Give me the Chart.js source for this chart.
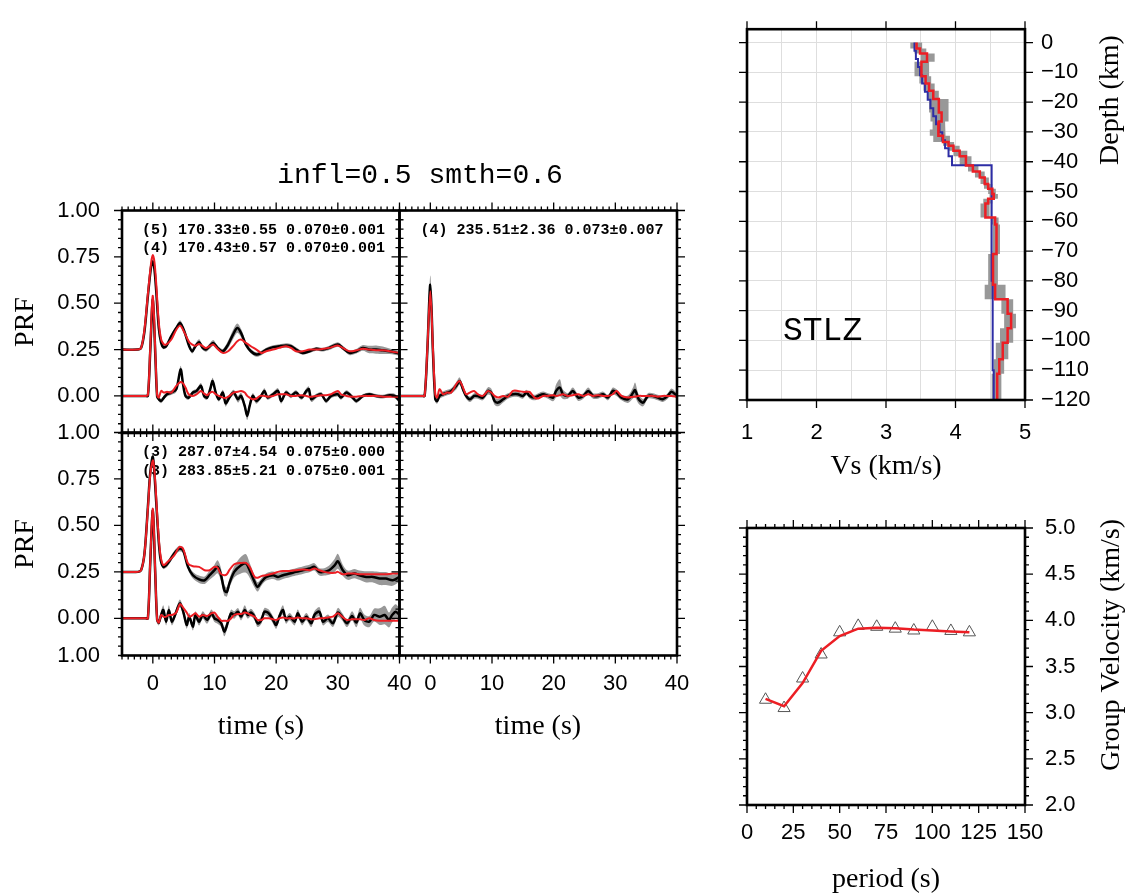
<!DOCTYPE html>
<html>
<head>
<meta charset="utf-8">
<title>STLZ receiver function inversion</title>
<script src="https://cdn.jsdelivr.net/npm/chart.js@4.4.0/dist/chart.umd.min.js"></script>
<style>
  html, body { margin: 0; padding: 0; background: #fff; }
  #wrap { position: relative; width: 1144px; height: 894px; overflow: hidden; }
  #wrap canvas { position: absolute; left: 0; top: 0; }
</style>
</head>
<body>
<div id="wrap">
  <canvas id="prfTL" width="1144" height="894"></canvas>
  <canvas id="prfTR" width="1144" height="894"></canvas>
  <canvas id="prfBL" width="1144" height="894"></canvas>
  <canvas id="prfBR" width="1144" height="894"></canvas>
  <canvas id="vsProfile" width="1144" height="894"></canvas>
  <canvas id="groupVel" width="1144" height="894"></canvas>
</div>
<script>
// ---- receiver functions (amplitudes relative to each trace's own zero line) ----
// top left, upper trace  "(5)"
const rf5Time = [-5, -2.5, -1.9, -1.35, -0.8, -0.27, 0, 0.27, 0.54, 0.97, 1.35, 1.73, 2.16, 3.0, 3.8, 4.43, 5.1, 5.9, 6.4, 6.9, 7.5, 8.1, 8.6, 9.2, 9.8, 10.5, 11.35, 12.2, 13.0, 13.7, 14.3, 15.1, 15.9, 16.8, 17.6, 18.4, 19.5, 20.5, 21.6, 22.4, 23.2, 24.3, 25.4, 26.5, 27.6, 28.6, 30.0, 30.8, 31.9, 33.0, 34.05, 35.1, 36.2, 37.3, 38.4, 40];
const rf5Obs = [0, 0, 0.009, 0.1, 0.29, 0.45, 0.475, 0.43, 0.32, 0.116, 0.036, 0.012, 0.018, 0.072, 0.116, 0.143, 0.099, 0.018, -0.009, 0.018, 0.04, 0.009, 0, 0.018, 0.036, 0.009, -0.009, 0.027, 0.081, 0.116, 0.09, 0.027, -0.009, -0.027, -0.018, 0, 0.013, 0.018, 0.022, 0.018, 0, -0.018, -0.009, 0.004, 0, 0.009, 0.027, 0.009, -0.018, -0.009, 0.009, 0, 0, -0.004, -0.009, -0.022];
const rf5Pred = [0, 0, 0.009, 0.11, 0.30, 0.47, 0.51, 0.47, 0.36, 0.143, 0.054, 0.03, 0.027, 0.054, 0.107, 0.129, 0.093, 0.04, 0.027, 0.021, 0.03, 0.018, 0.009, 0.018, 0.027, 0.004, -0.018, -0.009, 0.018, 0.045, 0.054, 0.036, 0.018, 0, -0.018, -0.009, 0, 0.009, 0.018, 0.009, -0.009, -0.009, 0, 0, 0.004, 0.009, 0.022, 0.009, -0.009, -0.004, 0.004, 0, -0.004, -0.004, -0.009, -0.018];
const rf5Err = [0.004, 0.004, 0.006, 0.012, 0.015, 0.015, 0.015, 0.015, 0.015, 0.012, 0.01, 0.01, 0.01, 0.012, 0.012, 0.015, 0.012, 0.012, 0.012, 0.012, 0.015, 0.012, 0.012, 0.015, 0.015, 0.012, 0.012, 0.02, 0.025, 0.025, 0.022, 0.015, 0.012, 0.012, 0.012, 0.01, 0.01, 0.01, 0.012, 0.012, 0.012, 0.01, 0.01, 0.01, 0.01, 0.012, 0.012, 0.012, 0.012, 0.012, 0.015, 0.02, 0.022, 0.02, 0.015, 0.012];

// top left, lower trace  "(4)"
const rf4aTime = [-5, -1.2, -0.8, -0.43, 0, 0.43, 0.7, 0.97, 1.35, 1.8, 2.3, 3.0, 3.8, 4.5, 4.9, 5.3, 5.8, 6.5, 7.1, 7.8, 8.3, 8.8, 9.3, 9.7, 10.2, 10.7, 11.35, 11.8, 12.4, 13.1, 13.8, 14.3, 14.9, 15.3, 15.7, 16.2, 16.8, 17.4, 18.1, 18.6, 19.5, 20.3, 20.8, 21.6, 22.4, 23.2, 24.1, 24.9, 25.3, 25.7, 26.5, 27.3, 28.1, 28.9, 30.0, 30.5, 31.4, 32.4, 33.0, 34.1, 35.1, 36.2, 37.3, 38.4, 39.2, 40];
const rf4aObs = [0, 0, 0, 0.233, 0.52, 0.197, -0.004, -0.018, -0.027, -0.009, 0.009, 0.018, 0.036, 0.143, 0.063, 0, -0.009, 0.018, 0.027, 0.054, 0, -0.009, 0.036, 0.08, 0.018, -0.018, 0.018, -0.04, -0.009, 0.018, -0.018, 0, -0.054, -0.108, -0.054, 0, -0.027, -0.009, 0.027, -0.009, 0.009, 0.027, -0.027, 0.018, 0, 0.018, -0.009, 0.027, 0.036, -0.018, 0, 0.009, -0.027, 0, 0.009, -0.009, 0.018, -0.009, -0.027, 0, 0.009, 0, -0.004, 0.004, 0, -0.027];
const rf4aPred = [0, 0, 0.004, 0.25, 0.54, 0.215, 0.004, -0.009, 0.027, 0.018, 0.022, 0.018, 0.054, 0.075, 0.068, 0.045, 0.009, 0, 0.009, 0.027, 0.013, 0.004, 0.018, 0.022, 0.009, 0, -0.009, -0.011, 0, 0.018, 0.022, 0.027, 0.018, 0, -0.009, -0.018, -0.014, 0, 0, -0.004, 0, 0.009, 0.009, 0.009, 0, 0, 0.004, 0, -0.004, -0.004, 0, 0.004, 0.004, 0.009, 0.027, 0.009, 0, -0.004, -0.004, 0, 0, 0, -0.004, -0.004, -0.004, -0.004];
const rf4aErr = [0.004, 0.004, 0.006, 0.015, 0.015, 0.015, 0.01, 0.012, 0.012, 0.012, 0.012, 0.012, 0.015, 0.02, 0.015, 0.012, 0.012, 0.012, 0.012, 0.015, 0.012, 0.012, 0.015, 0.018, 0.015, 0.012, 0.015, 0.018, 0.015, 0.015, 0.018, 0.018, 0.02, 0.022, 0.02, 0.015, 0.015, 0.012, 0.015, 0.012, 0.012, 0.015, 0.015, 0.012, 0.012, 0.012, 0.012, 0.015, 0.015, 0.015, 0.012, 0.012, 0.012, 0.012, 0.012, 0.012, 0.012, 0.012, 0.012, 0.01, 0.01, 0.01, 0.01, 0.01, 0.012, 0.012];

// top right  "(4)"
const rf4bTime = [-5, -1.3, -0.92, -0.49, 0, 0.43, 0.8, 1.1, 1.5, 2.05, 2.75, 3.4, 4.2, 4.75, 5.3, 5.8, 6.4, 7.1, 7.7, 8.5, 9.35, 9.9, 10.4, 11.0, 11.8, 12.6, 13.4, 14.2, 15.0, 15.6, 16.1, 16.9, 17.5, 18.3, 19.1, 19.9, 20.4, 21.0, 21.5, 22.3, 23.1, 24.0, 24.8, 25.6, 26.4, 27.2, 28.0, 28.8, 29.6, 30.2, 31.0, 32.05, 32.9, 33.2, 33.8, 34.5, 35.3, 36.1, 36.9, 37.7, 38.5, 39.1, 40];
const rf4bObs = [0, 0, 0, 0.242, 0.60, 0.233, -0.018, -0.027, 0, 0.009, 0.018, 0.027, 0.054, 0.08, 0.036, 0, -0.018, 0, 0, -0.009, 0.027, 0.018, -0.027, -0.036, -0.018, 0, 0.009, 0.009, 0, 0.018, 0, -0.009, 0, 0.009, 0, -0.009, 0.027, 0.045, 0.009, 0, 0.027, -0.009, 0, 0.027, 0, 0, 0.009, -0.009, 0.027, 0.018, -0.009, -0.018, 0.018, 0.032, -0.018, -0.036, 0, 0, -0.009, -0.018, 0, 0.022, 0];
const rf4bPred = [0, 0, 0, 0.25, 0.565, 0.25, 0.009, -0.009, 0.036, 0.009, 0.018, 0.018, 0.063, 0.08, 0.045, 0.009, 0.018, 0.027, 0.009, 0, 0.027, 0.018, 0, -0.009, 0, -0.004, 0.027, 0.027, 0.022, 0.022, 0.022, -0.009, -0.014, 0, 0, 0.004, 0, 0.004, 0.009, 0, 0.004, 0.009, 0, 0.009, 0, 0.004, 0, 0, 0.009, 0.027, 0, -0.009, -0.004, -0.004, 0, 0, 0, 0, -0.004, 0, 0, 0, -0.004];
const rf4bErr = [0.004, 0.004, 0.006, 0.03, 0.05, 0.03, 0.015, 0.015, 0.015, 0.015, 0.015, 0.015, 0.02, 0.02, 0.018, 0.015, 0.015, 0.015, 0.015, 0.015, 0.02, 0.02, 0.02, 0.02, 0.018, 0.015, 0.015, 0.015, 0.015, 0.015, 0.015, 0.015, 0.015, 0.015, 0.015, 0.02, 0.035, 0.045, 0.025, 0.015, 0.018, 0.018, 0.015, 0.018, 0.015, 0.015, 0.015, 0.015, 0.018, 0.018, 0.015, 0.02, 0.03, 0.04, 0.025, 0.02, 0.015, 0.015, 0.015, 0.015, 0.015, 0.018, 0.015];

// bottom left, upper trace  "(3)"
const rf3aTime = [-5, -2.4, -1.9, -1.35, -0.8, -0.43, 0, 0.3, 0.8, 1.2, 1.7, 2.4, 3.5, 4.3, 4.9, 5.7, 6.5, 7.5, 8.4, 9.2, 10.0, 10.5, 11.0, 11.6, 12.0, 12.4, 13.2, 14.3, 15.1, 15.7, 16.5, 17.0, 17.6, 18.4, 19.5, 20.3, 21.1, 22.2, 23.2, 24.3, 25.4, 26.2, 27.0, 27.8, 28.6, 29.5, 30.0, 30.8, 31.6, 32.7, 33.5, 34.6, 35.7, 36.8, 37.8, 38.9, 40];
const rf3aObs = [0, 0, 0.009, 0.1, 0.35, 0.53, 0.62, 0.51, 0.24, 0.08, 0.027, 0.045, 0.1, 0.125, 0.116, 0.027, -0.018, -0.04, -0.045, -0.018, 0.009, 0.027, -0.009, -0.099, -0.108, -0.063, 0, 0.036, 0.045, 0.009, -0.054, -0.081, -0.054, -0.027, -0.018, -0.027, -0.018, -0.009, 0, 0.009, 0.018, 0.027, 0, 0, 0.009, 0.036, 0.057, 0.009, -0.018, -0.009, -0.018, -0.027, -0.027, -0.036, -0.036, -0.045, -0.027];
const rf3aPred = [0, 0, 0.009, 0.1, 0.34, 0.52, 0.60, 0.53, 0.26, 0.1, 0.036, 0.054, 0.09, 0.134, 0.125, 0.045, 0.03, 0.027, 0.009, 0.009, 0.027, 0.023, -0.009, -0.018, -0.013, 0.009, 0.041, 0.048, 0.048, 0.027, -0.027, -0.031, -0.023, -0.018, -0.009, 0, 0.005, 0.005, 0.009, 0.013, 0.009, 0.018, 0.009, 0, -0.005, -0.005, 0, -0.013, -0.009, -0.009, -0.013, -0.013, -0.013, -0.013, -0.013, -0.009, -0.009];
const rf3aErr = [0.004, 0.004, 0.006, 0.012, 0.015, 0.02, 0.02, 0.02, 0.015, 0.015, 0.012, 0.015, 0.015, 0.015, 0.015, 0.015, 0.018, 0.02, 0.02, 0.025, 0.03, 0.035, 0.035, 0.03, 0.025, 0.025, 0.03, 0.045, 0.05, 0.04, 0.03, 0.025, 0.02, 0.02, 0.02, 0.02, 0.02, 0.02, 0.02, 0.02, 0.02, 0.02, 0.02, 0.02, 0.025, 0.035, 0.04, 0.03, 0.025, 0.025, 0.025, 0.03, 0.03, 0.035, 0.035, 0.03, 0.025];

// bottom left, lower trace  "(3)"
const rf3bTime = [-5, -1.2, -0.8, -0.43, 0, 0.38, 0.7, 0.97, 1.35, 1.7, 2.16, 2.6, 3.1, 3.8, 4.4, 5.0, 5.5, 5.9, 6.5, 6.9, 7.5, 8.1, 8.8, 9.5, 10.0, 10.5, 11.1, 11.6, 12.2, 12.7, 13.2, 13.8, 14.3, 14.9, 15.4, 15.9, 16.5, 17.0, 17.6, 18.1, 18.8, 19.5, 20.0, 20.5, 21.1, 21.6, 22.2, 23.0, 23.5, 24.2, 24.9, 25.7, 26.2, 27.0, 27.6, 28.4, 29.2, 30.0, 30.7, 31.5, 32.3, 33.0, 33.6, 34.3, 35.1, 35.9, 36.8, 37.6, 38.3, 38.8, 39.4, 40];
const rf3bObs = [0, 0, 0, 0.29, 0.58, 0.25, -0.009, -0.023, 0.018, 0.045, -0.018, 0.045, -0.018, 0.036, 0.081, 0.027, -0.036, 0.009, -0.045, 0.018, -0.018, 0.018, -0.009, 0.027, 0, -0.009, -0.027, -0.072, -0.018, 0.027, 0.018, 0.036, 0.009, 0.045, 0.018, 0.031, 0.009, -0.027, -0.009, 0.036, 0.027, -0.009, -0.036, 0.009, 0.045, -0.009, 0.009, -0.018, 0.027, -0.018, 0.009, -0.027, 0.018, 0.036, -0.018, 0, -0.027, 0.031, 0.009, -0.027, 0.013, -0.023, 0.027, -0.009, -0.018, 0.018, 0.009, 0.018, -0.009, 0.018, 0.036, 0.018];
const rf3bPred = [0, 0, 0, 0.30, 0.59, 0.26, -0.009, -0.023, 0.018, 0.009, 0.009, 0.018, 0.018, 0.031, 0.077, 0.054, 0.031, 0.009, 0.018, 0.027, 0.009, 0.018, 0.013, 0.027, 0.031, 0.009, -0.013, -0.013, -0.013, 0, 0.018, 0.023, 0.023, 0.031, 0.027, 0.018, 0.009, -0.009, -0.009, 0, 0, -0.005, -0.009, 0, 0.005, 0, 0, 0, 0.005, 0, 0, -0.005, -0.005, 0, 0, 0.005, 0.009, 0.027, 0.009, -0.009, -0.005, -0.005, -0.005, -0.009, 0, -0.009, -0.013, -0.013, -0.013, -0.013, -0.013, -0.013];
const rf3bErr = [0.004, 0.004, 0.006, 0.015, 0.02, 0.015, 0.015, 0.015, 0.02, 0.025, 0.02, 0.025, 0.02, 0.02, 0.02, 0.02, 0.02, 0.02, 0.02, 0.02, 0.02, 0.02, 0.02, 0.02, 0.02, 0.02, 0.02, 0.025, 0.02, 0.02, 0.02, 0.02, 0.02, 0.025, 0.02, 0.02, 0.02, 0.02, 0.02, 0.02, 0.02, 0.02, 0.02, 0.02, 0.025, 0.02, 0.02, 0.02, 0.02, 0.02, 0.02, 0.02, 0.02, 0.025, 0.02, 0.02, 0.02, 0.025, 0.02, 0.02, 0.025, 0.025, 0.03, 0.03, 0.03, 0.035, 0.045, 0.05, 0.04, 0.04, 0.04, 0.035];

const upperShift = 0.25;   // upper trace of each panel is drawn 0.25 higher

// ---- shear velocity profile (layer boundaries in km, velocities in km/s) ----
const modelDepth = [0, 2, 3.7, 6.4, 11.3, 13.7, 16.2, 18.9, 23.5, 26.5, 29.2, 31.3, 33.4, 34.6, 36.3, 38.2, 41.3, 43.3, 45.3, 47.5, 49.1, 50.8, 52.4, 54.0, 58.7, 61.1, 71.0, 81.3, 86.2, 91.0, 95.9, 100.8, 106.3, 111.2, 120];
const modelVs = [3.44, 3.49, 3.59, 3.51, 3.57, 3.62, 3.68, 3.76, 3.80, 3.76, 3.75, 3.82, 3.90, 3.97, 4.06, 4.15, 4.25, 4.35, 4.42, 4.47, 4.53, 4.55, 4.47, 4.43, 4.57, 4.59, 4.54, 4.57, 4.75, 4.80, 4.75, 4.68, 4.63, 4.60];
const modelVsLow = [3.35, 3.41, 3.50, 3.41, 3.48, 3.54, 3.59, 3.62, 3.64, 3.67, 3.63, 3.68, 3.82, 3.89, 3.97, 4.06, 4.18, 4.28, 4.36, 4.41, 4.47, 4.49, 4.40, 4.36, 4.52, 4.54, 4.47, 4.42, 4.66, 4.70, 4.64, 4.58, 4.55, 4.52];
const modelVsHigh = [3.52, 3.58, 3.70, 3.62, 3.65, 3.70, 3.76, 3.90, 3.90, 3.85, 3.86, 3.92, 3.98, 4.06, 4.17, 4.23, 4.33, 4.42, 4.48, 4.53, 4.58, 4.61, 4.53, 4.49, 4.62, 4.64, 4.61, 4.72, 4.83, 4.87, 4.83, 4.76, 4.70, 4.66];
const startDepth = [0, 2.7, 5.5, 8.2, 11, 13.7, 16.5, 19.2, 22, 24.7, 27.4, 30.1, 32.8, 35.5, 38.2, 41.2, 80, 110, 120];
const startVs = [3.41, 3.43, 3.46, 3.49, 3.52, 3.56, 3.60, 3.64, 3.68, 3.72, 3.77, 3.81, 3.85, 3.90, 3.95, 4.52, 4.535, 4.55];

// ---- group velocity dispersion ----
const gvPeriod = [10, 20, 30, 40, 50, 60, 70, 80, 90, 100, 110, 120];
const gvObs = [3.14, 3.05, 3.37, 3.63, 3.87, 3.94, 3.93, 3.91, 3.89, 3.93, 3.885, 3.87];
const gvPred = [3.15, 3.07, 3.32, 3.67, 3.83, 3.91, 3.92, 3.915, 3.90, 3.89, 3.88, 3.87];

// ---- tick labels ----
const timeTicks = [0, 10, 20, 30, 40];
const prfTicks = [0, 0.25, 0.5, 0.75, 1];
const prfTicksLow = [-0.2, 0, 0.25, 0.5, 0.75, 1];
const vsTicks = [1, 1.5, 2, 2.5, 3, 3.5, 4, 4.5, 5];
const depthTicks = [-120, -110, -100, -90, -80, -70, -60, -50, -40, -30, -20, -10, 0];
const periodTicks = [0, 25, 50, 75, 100, 125, 150];
const gvTicks = [2, 2.5, 3, 3.5, 4, 4.5, 5];

const W = 1144, H = 894;
const AXW = 100, AXH = 50;   // room reserved for tick labels
const RED = 'rgb(236,30,36)';
const BLUE = 'rgb(45,45,165)';
const GREY = 'rgb(152,152,152)';
const MONO = '"Liberation Mono", "DejaVu Sans Mono", monospace';
const SERIF = '"Liberation Serif", "DejaVu Serif", serif';

Chart.defaults.font.family = '"Liberation Sans", Arial, sans-serif';
Chart.defaults.font.size = 22;
Chart.defaults.color = '#000';

function axis(min, max, position, ticks, fmt, pad, grid) {
  const vertical = position === 'left' || position === 'right';
  return {
    type: 'linear', position: position, min: min, max: max,
    display: !!ticks,
    afterBuildTicks: s => { if (ticks) s.ticks = ticks.map(v => ({ value: v })); },
    afterFit: s => { if (vertical) s.width = ticks ? AXW : 0; else s.height = ticks ? AXH : 0; },
    grid: grid ? { color: '#dedede', lineWidth: 1, drawTicks: false } : { display: false, drawTicks: false },
    border: { display: false },
    ticks: { autoSkip: false, maxRotation: 0, minRotation: 0, padding: pad || 0, callback: fmt || (v => String(v)) }
  };
}

// observed (black), predicted (red) and a grey band of +/- err around the observed trace
function traceSets(t, obs, pred, err, shift, base) {
  const pts = (vals, k) => t.map((x, i) => ({ x: x, y: shift + vals[i] + k * err[i] }));
  const common = { pointRadius: 0, tension: 0.3 };
  return [
    Object.assign({ data: pts(obs, -1), borderWidth: 0, fill: false, order: 3 }, common),
    Object.assign({ data: pts(obs, 1), borderWidth: 0, fill: { target: base }, backgroundColor: GREY, order: 2 }, common),
    Object.assign({ data: pts(obs, 0), borderColor: '#000', borderWidth: 2.5, fill: false, order: 1 }, common),
    Object.assign({ data: pts(pred, 0), borderColor: RED, borderWidth: 2, fill: false, order: 0 }, common)
  ];
}

// layered model -> staircase points (Vs on x, depth downward on y)
function stepPoints(depth, vs) {
  const pts = [];
  vs.forEach((v, i) => {
    pts.push({ x: v, y: -depth[i] });
    pts.push({ x: v, y: -depth[i + 1] });
  });
  return pts;
}

// GMT-like frame: thick border, outward major/minor ticks on all sides, plus texts
function framePlugin(spec) {
  return {
    id: 'gmtFrame',
    beforeDatasetsDraw(chart) {
      const ctx = chart.ctx;
      (spec.texts || []).forEach(tx => {
        ctx.save();
        ctx.font = tx.f;
        ctx.fillStyle = '#000';
        ctx.textAlign = tx.align || 'center';
        ctx.textBaseline = 'middle';
        ctx.translate(tx.x, tx.y);
        if (tx.rot) ctx.rotate(-Math.PI / 2);
        ctx.fillText(tx.t, 0, 0);
        ctx.restore();
      });
    },
    afterDraw(chart) {
      const { ctx, chartArea: a, scales } = chart;
      const walk = (scale, major, minor, fn) => {
        const step = minor || major;
        for (let k = Math.ceil(scale.min / step - 1e-6); k * step <= scale.max + 1e-6; k++) {
          const v = k * step;
          const r = v / major;
          fn(scale.getPixelForValue(v), Math.abs(r - Math.round(r)) < 1e-6 ? 8 : 4);
        }
      };
      ctx.save();
      ctx.strokeStyle = '#000';
      ctx.lineWidth = 1.3;
      ctx.beginPath();
      walk(scales.x, spec.xMajor, spec.xMinor, (p, len) => {
        ctx.moveTo(p, a.top); ctx.lineTo(p, a.top - len);
        ctx.moveTo(p, a.bottom); ctx.lineTo(p, a.bottom + len);
      });
      walk(scales.y, spec.yMajor, spec.yMinor, (p, len) => {
        ctx.moveTo(a.left, p); ctx.lineTo(a.left - len, p);
        ctx.moveTo(a.right, p); ctx.lineTo(a.right + len, p);
      });
      ctx.stroke();
      ctx.lineWidth = 2.6;
      ctx.strokeRect(a.left, a.top, a.right - a.left, a.bottom - a.top);
      ctx.restore();
    }
  };
}

// box = frame edges in page pixels; padding leaves room for the label boxes
function makeChart(id, box, datasets, x, y, frame) {
  const xRoom = x.display ? AXH : 0;
  const yRoom = y.display ? AXW : 0;
  const padding = {
    left: box[0] - (y.position === 'left' ? yRoom : 0),
    right: W - box[2] - (y.position === 'right' ? yRoom : 0),
    top: box[1],
    bottom: H - box[3] - xRoom
  };
  return new Chart(document.getElementById(id), {
    type: 'line',
    data: { datasets: datasets },
    options: {
      responsive: false,
      animation: false,
      devicePixelRatio: 1,
      events: [],
      layout: { padding: padding },
      plugins: { legend: { display: false }, tooltip: { enabled: false } },
      scales: { x: x, y: y }
    },
    plugins: [framePlugin(frame)]
  });
}

const fmtPrf = v => (v < -0.1 ? '1.00' : v.toFixed(2));
const prfFrame = { xMajor: 10, xMinor: 1, yMajor: 0.25, yMinor: 0.05 };
const annot = 'bold 15px ' + MONO;
const label = '28px ' + SERIF;

// top left
makeChart('prfTL', [122, 210.5, 399.5, 433],
  traceSets(rf5Time, rf5Obs, rf5Pred, rf5Err, upperShift, 0)
    .concat(traceSets(rf4aTime, rf4aObs, rf4aPred, rf4aErr, 0, 4)),
  axis(-5, 40, 'bottom', null),
  axis(-0.2, 1, 'left', prfTicks, fmtPrf, 22),
  Object.assign({ texts: [
    { t: 'infl=0.5 smth=0.6', x: 420, y: 176, f: '28px ' + MONO },
    { t: 'PRF', x: 26, y: 322, f: label, rot: true },
    { t: '(5) 170.33±0.55 0.070±0.001', x: 142, y: 230, f: annot, align: 'left' },
    { t: '(4) 170.43±0.57 0.070±0.001', x: 142, y: 248.5, f: annot, align: 'left' }
  ] }, prfFrame));

// top right
makeChart('prfTR', [399.5, 210.5, 677, 433],
  traceSets(rf4bTime, rf4bObs, rf4bPred, rf4bErr, 0, 0),
  axis(-5, 40, 'bottom', null),
  axis(-0.2, 1, 'left', null),
  Object.assign({ texts: [
    { t: '(4) 235.51±2.36 0.073±0.007', x: 420.5, y: 230, f: annot, align: 'left' }
  ] }, prfFrame));

// bottom left
makeChart('prfBL', [122, 432.5, 399.5, 655.5],
  traceSets(rf3aTime, rf3aObs, rf3aPred, rf3aErr, upperShift, 0)
    .concat(traceSets(rf3bTime, rf3bObs, rf3bPred, rf3bErr, 0, 4)),
  axis(-5, 40, 'bottom', timeTicks, null, 15),
  axis(-0.2, 1, 'left', prfTicksLow, fmtPrf, 22),
  Object.assign({ texts: [
    { t: 'PRF', x: 26, y: 544, f: label, rot: true },
    { t: 'time (s)', x: 261, y: 727, f: label },
    { t: '(3) 287.07±4.54 0.075±0.000', x: 142, y: 452, f: annot, align: 'left' },
    { t: '(3) 283.85±5.21 0.075±0.001', x: 142, y: 471, f: annot, align: 'left' }
  ] }, prfFrame));

// bottom right (empty frame)
makeChart('prfBR', [399.5, 432.5, 677, 655.5],
  [],
  axis(-5, 40, 'bottom', timeTicks, null, 15),
  axis(-0.2, 1, 'left', null),
  Object.assign({ texts: [
    { t: 'time (s)', x: 538, y: 727, f: label }
  ] }, prfFrame));

// velocity profile
makeChart('vsProfile', [747, 19, 1025, 400],
  [
    { data: stepPoints(modelDepth, modelVsHigh).concat(stepPoints(modelDepth, modelVsLow).reverse()),
      fill: 'shape', backgroundColor: GREY, borderWidth: 0, pointRadius: 0, tension: 0, order: 2 },
    { data: stepPoints(startDepth, startVs), borderColor: BLUE, borderWidth: 2, fill: false, pointRadius: 0, tension: 0, order: 1 },
    { data: stepPoints(modelDepth, modelVs), borderColor: RED, borderWidth: 2.5, fill: false, pointRadius: 0, tension: 0, order: 0 }
  ],
  axis(1, 5, 'bottom', vsTicks, v => (Number.isInteger(v) ? String(v) : ''), 20, true),
  axis(-120, 4.5, 'right', depthTicks, v => (v === 0 ? '0' : '\u2212' + Math.abs(v)), 16, true),
  { xMajor: 1, yMajor: 10, texts: [
    { t: 'STLZ', x: 783, y: 331, f: '33px ' + MONO, align: 'left' },
    { t: 'Vs (km/s)', x: 886, y: 467, f: label },
    { t: 'Depth (km)', x: 1111, y: 100, f: label, rot: true }
  ] });

// group velocity
makeChart('groupVel', [747, 528, 1025, 805],
  [
    { data: gvPeriod.map((p, i) => ({ x: p, y: gvObs[i] })), showLine: false, fill: false,
      pointStyle: 'triangle', pointRadius: 7, pointBorderColor: '#555', pointBorderWidth: 1,
      pointBackgroundColor: 'rgba(0,0,0,0)', order: 1 },
    { data: gvPeriod.map((p, i) => ({ x: p, y: gvPred[i] })), borderColor: RED, borderWidth: 2.5,
      fill: false, pointRadius: 0, tension: 0, order: 0 }
  ],
  axis(0, 150, 'bottom', periodTicks, null, 15),
  axis(2, 5, 'right', gvTicks, v => v.toFixed(1), 20),
  { xMajor: 25, xMinor: 5, yMajor: 0.5, yMinor: 0.1, texts: [
    { t: 'period (s)', x: 886, y: 880, f: label },
    { t: 'Group Velocity (km/s)', x: 1112, y: 645, f: label, rot: true }
  ] });
</script>
</body>
</html>
